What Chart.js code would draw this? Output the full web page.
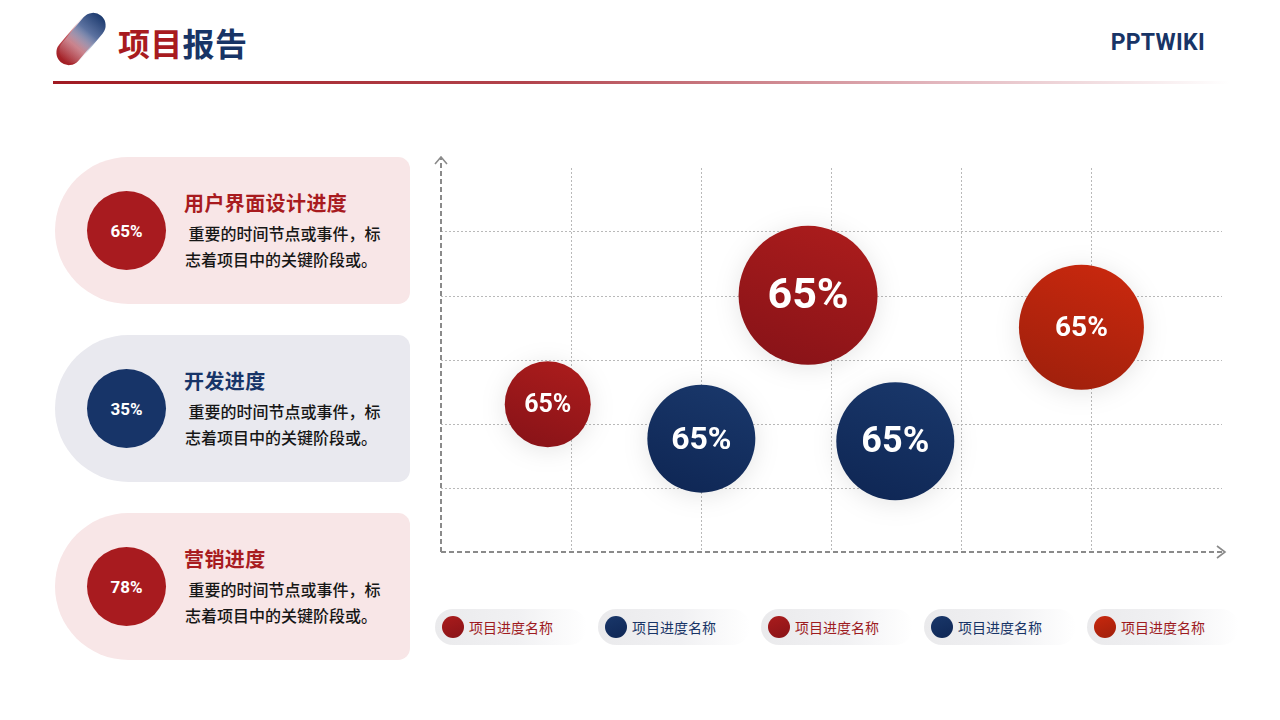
<!DOCTYPE html>
<html>
<head>
<meta charset="utf-8">
<script src="https://cdn.jsdelivr.net/npm/chart.js@4.4.1/dist/chart.umd.min.js"></script>
<style>
  body { margin: 0; background: #fff; font-family: Roboto, "Noto Sans CJK SC", sans-serif; }
  #page { position: relative; width: 1280px; height: 720px; overflow: hidden; background: #fff; }
  .logo { position: absolute; left: 53px; top: 17px; width: 54px; height: 47px; }
  .logo .pill { position: absolute; width: 25px; height: 58px; border-radius: 13px; left: 14px; top: -6px; transform: rotate(40deg); }
  .logo .p1 { background: linear-gradient(to top, #a01c22 0%, #c04a52 40%, rgba(236,214,220,0.7) 72%, rgba(255,255,255,0) 100%); }
  .logo .p2 { left: 17px; top: -8px; background: linear-gradient(to bottom, #1c3a6e 0%, #5c72a0 35%, rgba(220,226,238,0.4) 68%, rgba(255,255,255,0) 100%); }
  .title { position: absolute; left: 118px; top: 21px; font-size: 32px; font-weight: 700; font-family: "Noto Sans CJK SC"; line-height: 42px; letter-spacing: 0.3px; }
  .title .a { color: #a81b1f; } .title .b { color: #183466; }
  .brand { position: absolute; right: 75px; top: 28px; font-size: 23px; font-weight: 700; color: #183466; line-height: 30px; letter-spacing: 0.3px; }
  .rule { position: absolute; left: 53px; top: 81px; width: 1177px; height: 3px; background: linear-gradient(90deg, #a01a22 0%, #b2434c 40%, #e2b6bd 75%, rgba(255,255,255,0) 100%); }
  .card { position: absolute; left: 55px; width: 355px; height: 147px; border-radius: 74px 12px 12px 74px; }
  .card .dot { position: absolute; left: 32px; top: 34px; width: 79px; height: 79px; border-radius: 50%; color: #fff; font-weight: 700; font-size: 17px; display: flex; align-items: center; justify-content: center; font-family: Roboto; }
  .card .h { position: absolute; left: 129px; top: 31px; font-size: 20px; font-weight: 700; font-family: "Noto Sans CJK SC"; line-height: 30px; letter-spacing: 0.4px; }
  .card .d { position: absolute; left: 130px; top: 63px; white-space: nowrap; font-size: 16px; line-height: 26px; color: #161616; font-family: "Noto Sans CJK SC"; font-weight: 500; }
  #chartBox { position: absolute; left: 430px; top: 145px; width: 805px; height: 420px; }
  .lg { position: absolute; top: 609px; height: 36px; width: 152px; border-radius: 18px; background: linear-gradient(90deg, #eaeaec 0%, #f1f1f3 55%, rgba(255,255,255,0) 100%); }
  .lg .c { position: absolute; left: 7px; top: 7px; width: 22px; height: 22px; border-radius: 50%; }
  .lg .t { position: absolute; left: 34px; top: 0; line-height: 36px; font-size: 14px; font-family: "Noto Sans CJK SC"; }
</style>
</head>
<body>
<div id="page">
  <div class="logo"><div class="pill p1"></div><div class="pill p2"></div></div>
  <div class="title"><span class="a">项目</span><span class="b">报告</span></div>
  <div class="brand">PPTWIKI</div>
  <div class="rule"></div>
  <div id="cards"></div>
  <div id="chartBox"><canvas id="c"></canvas></div>
  <div id="legend"></div>
</div>
<script>
// left cards
const cardTitles = ['用户界面设计进度', '开发进度', '营销进度'];
const cardPercents = ['65%', '35%', '78%'];
const cardLines = ['\u00a0重要的时间节点或事件，标', '志着项目中的关键阶段或。'];

// bubble chart
const seriesNames = ['项目进度名称', '项目进度名称', '项目进度名称', '项目进度名称', '项目进度名称'];
const seriesX = [0.82, 2.00, 2.82, 3.49, 4.92];
const seriesY = [2.31, 1.77, 4.01, 1.73, 3.51];
const seriesR = [43, 54, 69.5, 59, 62.5];
const bubbleText = ['65%', '65%', '65%', '65%', '65%'];

const RED = ['#aa1c1c', '#891318'];
const NAVY = ['#19376a', '#0f2755'];
const ORANGE = ['#c8280e', '#a0200c'];
const palette = [RED, NAVY, RED, NAVY, ORANGE];
const legendText = ['#9e1b1f', '#183466', '#9e1b1f', '#183466', '#9e1b1f'];
const labelFontPx = [25, 32, 43, 36, 28];

const cardBg = ['#f8e6e7', '#e9e9ef', '#f8e6e7'];
const cardColor = ['#a81b1f', '#173468', '#a81b1f'];
const cardTop = [157, 335, 513];

const cardsEl = document.getElementById('cards');
cardTitles.forEach((t, i) => {
  const d = document.createElement('div');
  d.className = 'card';
  d.style.top = cardTop[i] + 'px';
  d.style.background = cardBg[i];
  d.innerHTML = `<div class="dot" style="background:${cardColor[i]}">${cardPercents[i]}</div>` +
    `<div class="h" style="color:${cardColor[i]}">${t}</div><div class="d">${cardLines.join('<br>')}</div>`;
  cardsEl.appendChild(d);
});

const legendEl = document.getElementById('legend');
seriesNames.forEach((n, i) => {
  const d = document.createElement('div');
  d.className = 'lg';
  d.style.left = (435 + i * 163) + 'px';
  d.innerHTML = `<div class="c" style="background:linear-gradient(160deg, ${palette[i][0]}, ${palette[i][1]})"></div>` +
    `<div class="t" style="color:${legendText[i]}">${n}</div>`;
  legendEl.appendChild(d);
});

function bubbleFill(i) {
  return (c) => {
    const chart = c.chart;
    if (!chart.chartArea || !c.raw) return palette[i][0];
    const x = chart.scales.x.getPixelForValue(c.raw.x);
    const y = chart.scales.y.getPixelForValue(c.raw.y);
    const r = c.raw.r;
    const g = chart.ctx.createLinearGradient(x + r * 0.4, y - r, x - r * 0.4, y + r);
    g.addColorStop(0, palette[i][0]);
    g.addColorStop(1, palette[i][1]);
    return g;
  };
}

const datasets = seriesNames.map((n, i) => ({
  label: n,
  data: [{ x: seriesX[i], y: seriesY[i], r: seriesR[i] }],
  backgroundColor: bubbleFill(i),
  borderWidth: 0,
  clip: false
}));

const shadowPlugin = {
  id: 'shadow',
  beforeDatasetDraw(chart) {
    const ctx = chart.ctx;
    ctx.save();
    ctx.shadowColor = 'rgba(0,0,0,0.10)';
    ctx.shadowBlur = 24;
    ctx.shadowOffsetY = 3;
  },
  afterDatasetDraw(chart) { chart.ctx.restore(); }
};

const axesPlugin = {
  id: 'arrowAxes',
  beforeDatasetsDraw(chart) {
    const { ctx, chartArea: a } = chart;
    const x0 = chart.scales.x.getPixelForValue(0);
    const y0 = chart.scales.y.getPixelForValue(0);
    ctx.save();
    ctx.strokeStyle = '#8a8a8a';
    ctx.lineWidth = 2;
    ctx.setLineDash([5, 3]);
    ctx.beginPath();
    ctx.moveTo(x0, y0); ctx.lineTo(x0, a.top - 10);
    ctx.moveTo(x0, y0); ctx.lineTo(a.right + 2, y0);
    ctx.stroke();
    ctx.setLineDash([]);
    ctx.lineWidth = 1.6;
    ctx.beginPath();
    ctx.moveTo(x0 - 6, a.top - 4); ctx.lineTo(x0, a.top - 11); ctx.lineTo(x0 + 6, a.top - 4);
    ctx.moveTo(a.right - 5, y0 - 6); ctx.lineTo(a.right + 3, y0); ctx.lineTo(a.right - 5, y0 + 6);
    ctx.stroke();
    ctx.restore();
  }
};

const labelPlugin = {
  id: 'bubbleLabels',
  afterDatasetsDraw(chart) {
    const ctx = chart.ctx;
    ctx.save();
    ctx.fillStyle = '#ffffff';
    ctx.textAlign = 'center';
    ctx.textBaseline = 'middle';
    chart.data.datasets.forEach((ds, i) => {
      const el = chart.getDatasetMeta(i).data[0];
      ctx.font = `700 ${labelFontPx[i]}px Roboto, sans-serif`;
      ctx.fillText(bubbleText[i], el.x, el.y + 2);
    });
    ctx.restore();
  }
};

const gridColor = (c) => (c.tick.value === 0 || c.tick.value === 6) ? 'rgba(0,0,0,0)' : '#b9b9b9';

new Chart(document.getElementById('c'), {
  type: 'bubble',
  data: { datasets },
  options: {
    responsive: true,
    maintainAspectRatio: false,
    animation: false,
    events: [],
    layout: { autoPadding: false, padding: { left: 11, top: 23, right: 13, bottom: 13 } },
    plugins: { legend: { display: false }, tooltip: { enabled: false } },
    scales: {
      x: {
        type: 'linear', min: 0, max: 6,
        ticks: { display: false, stepSize: 1 },
        grid: { color: gridColor, lineWidth: 1, drawTicks: false },
        border: { display: false, dash: [2, 2] }
      },
      y: {
        type: 'linear', min: 0, max: 6,
        ticks: { display: false, stepSize: 1 },
        grid: { color: gridColor, lineWidth: 1, drawTicks: false },
        border: { display: false, dash: [2, 2] }
      }
    }
  },
  plugins: [axesPlugin, shadowPlugin, labelPlugin]
});
</script>
</body>
</html>
